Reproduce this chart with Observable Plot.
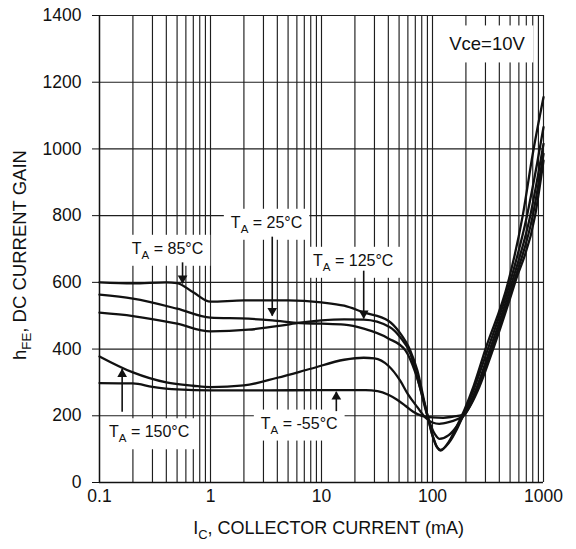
<!DOCTYPE html>
<html>
<head>
<meta charset="utf-8">
<script src="https://cdn.jsdelivr.net/npm/d3@7"></script>
<script src="https://cdn.jsdelivr.net/npm/@observablehq/plot@0.6"></script>
<style>
  body { margin: 0; background: #fff; font-family: "Liberation Sans", Arial, sans-serif; }
</style>
</head>
<body>
<div id="chart"></div>
<script>
// ---- Data ----
const seriesNames = ["85°C", "25°C", "125°C", "150°C", "-55°C"];

const ic85  = [0.1,0.2,0.4,0.5,0.7,1,2,5,10,16,24,40,50,63,73,86,100,110,118,140,165,195,235,300,480,650,800,1000];
const hfe85 = [600,597,600,598,570,542,546,546,540,530,510,485,452,396,336,230,140,105,96,122,168,220,290,400,600,800,985,1155];

const ic25  = [0.1,0.2,0.5,1,2.2,3.6,6.4,10,16,24,40,57,70,85,100,110,118,140,165,195,235,315,500,710,880,1000];
const hfe25 = [563,551,521,494,491,486,478,476,473,461,432,396,330,235,142,106,98,118,158,212,278,400,600,800,960,1065];

const ic125  = [0.1,0.2,0.5,1,2.2,4.3,6.4,10,16,24,41,51,63,75,90,105,115,140,165,195,240,330,520,760,1000];
const hfe125 = [509,499,476,453,458,470,479,486,489,488,466,436,387,300,200,145,131,142,168,206,270,400,600,800,1015];

const ic150  = [0.1,0.2,0.4,0.7,1,2,4,8,16,24,30,40,51,60,73,86,100,115,140,165,195,250,342,540,800,1000];
const hfe150 = [378,330,300,290,286,291,314,341,368,374,372,350,306,265,226,195,180,176,181,189,203,275,400,600,800,985];

const icM55  = [0.1,0.2,0.3,0.5,1,3,10,25,32,40,48,57,67,80,100,125,150,190,250,352,555,840,1000];
const hfeM55 = [298,297,287,279,276,276,277,277,274,263,248,230,212,200,195,194,197,204,268,400,600,800,965];

const xTickValues = [0.1, 1, 10, 100, 1000];
const xTickLabels = ["0.1", "1", "10", "100", "1000"];
const yTickValues = [0, 200, 400, 600, 800, 1000, 1200, 1400];

// annotations (data coordinates)
const condText = ["Vce=10V"];
const condX = [310];
const condY = [1313];

const labelText = ["T_A = 25°C", "T_A = 85°C", "T_A = 125°C", "T_A = 150°C", "T_A = -55°C"];
const labelX = [3.2, 0.41, 19.3, 0.28, 6.3];
const labelY = [779, 701, 665, 151, 177];

const arrowX    = [0.56, 3.6, 24, 0.16, 13.6];
const arrowFrom = [660, 737, 635, 212, 214];
const arrowTo   = [597, 500, 492, 340, 272];

const xTitle = "I_C, COLLECTOR CURRENT (mA)";
const yTitle = "h_FE, DC CURRENT GAIN";

// ---- Build tables ----
const allIc = [ic85, ic25, ic125, ic150, icM55];
const allHfe = [hfe85, hfe25, hfe125, hfe150, hfeM55];
const rows = [];
seriesNames.forEach((s, i) => allIc[i].forEach((c, j) => rows.push({series: s, ic: c, hfe: allHfe[i][j]})));

const xGrid = [];
for (let d = 0.1; d < 1000; d *= 10) for (let k = 1; k <= 9; k++) xGrid.push(+(d * k).toPrecision(3));
xGrid.push(1000);

const conds = condText.map((t, i) => ({t, x: condX[i], y: condY[i]}));
const labels = labelText.map((t, i) => ({t, x: labelX[i], y: labelY[i]}));
const arrows = arrowX.map((x, i) => ({x, y1: arrowFrom[i], y2: arrowTo[i]}));
const arrowsDown = arrows.filter(a => a.y2 < a.y1);
const arrowsUp = arrows.filter(a => a.y2 > a.y1);

const ink = "#111";

const plot = Plot.plot({
  width: 576,
  height: 549,
  marginTop: 15,
  marginBottom: 67,
  marginLeft: 99,
  marginRight: 33,
  style: {fontFamily: "'Liberation Sans', Arial, sans-serif", fontSize: "17.5px", color: ink, background: "#fff"},
  x: {type: "log", domain: [0.1, 1000], ticks: xTickValues,
      tickFormat: d => xTickLabels[xTickValues.indexOf(d)] ?? "", tickSize: 0, tickPadding: 7, label: null},
  y: {domain: [0, 1400], ticks: yTickValues, tickFormat: d3.format("d"), tickSize: 7, tickPadding: 11, label: null},
  marks: [
    Plot.ruleX(xGrid, {stroke: "#1e1e1e", strokeWidth: 1.15}),
    Plot.ruleY(yTickValues, {stroke: "#1e1e1e", strokeWidth: 1.15}),
    Plot.ruleY([0], {stroke: ink, strokeWidth: 1.4}),
    Plot.ruleX([0.1], {stroke: ink, strokeWidth: 1.4}),
    Plot.line(rows, {x: "ic", y: "hfe", z: "series", curve: "monotone-x", stroke: ink, strokeWidth: 2.3}),
    Plot.text(conds, {x: "x", y: "y", text: "t", fontSize: 18.5, fill: ink}),
    Plot.text(labels, {x: "x", y: "y", text: "t", fontSize: 16, fill: ink}),
    Plot.link(arrows, {x1: "x", x2: "x", y1: "y1", y2: "y2", stroke: ink, strokeWidth: 1.6}),
    Plot.dot(arrowsDown, {x: "x", y: "y2", symbol: "triangle", r: 3.6, fill: ink, stroke: "none", rotate: 180, dy: -5}),
    Plot.dot(arrowsUp, {x: "x", y: "y2", symbol: "triangle", r: 3.6, fill: ink, stroke: "none", dy: 5}),
    Plot.text([xTitle], {frameAnchor: "bottom", textAnchor: "middle", lineAnchor: "middle", dy: 46, dx: 7, fontSize: 18, fill: ink}),
    Plot.text([yTitle], {frameAnchor: "left", textAnchor: "middle", lineAnchor: "middle", rotate: -90, dx: -79, dy: 6, fontSize: 18.5, fill: ink})
  ]
});

document.getElementById("chart").append(plot);

// subscripts (T_A, h_FE, I_C) and white boxes behind annotations
const annSet = new Set([...condText, ...labelText]);
d3.select(plot).selectAll("text").each(function () {
  const original = this.textContent;
  if (this.querySelector("tspan")) return;
  const m = /^(.*?)_([A-Z]+)(.*)$/.exec(original);
  if (m) {
    this.textContent = "";
    const ns = "http://www.w3.org/2000/svg";
    const a = document.createElementNS(ns, "tspan"); a.textContent = m[1];
    const b = document.createElementNS(ns, "tspan"); b.textContent = m[2];
    b.setAttribute("dy", "5"); b.setAttribute("font-size", "0.72em");
    const c = document.createElementNS(ns, "tspan"); c.textContent = m[3];
    c.setAttribute("dy", "-5");
    this.append(a, b, c);
  }
  if (annSet.has(original)) {
    const bb = this.getBBox();
    const padX = original.startsWith("Vce") ? 8 : 7;
    const padY = original.startsWith("Vce") ? 8 : 5;
    const r = document.createElementNS("http://www.w3.org/2000/svg", "rect");
    r.setAttribute("x", bb.x - padX);
    r.setAttribute("y", bb.y - padY);
    r.setAttribute("width", bb.width + 2 * padX);
    r.setAttribute("height", bb.height + 2 * padY);
    r.setAttribute("fill", "#fff");
    const tr = this.getAttribute("transform");
    if (tr) r.setAttribute("transform", tr);
    this.parentNode.insertBefore(r, this);
  }
});
</script>
</body>
</html>
